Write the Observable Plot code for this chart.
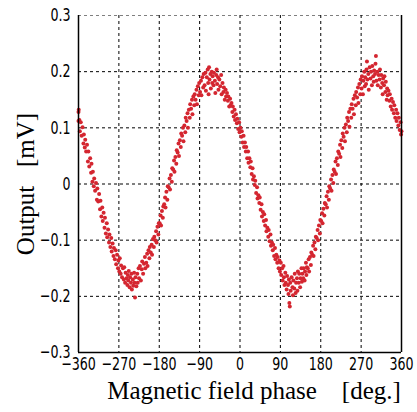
<!DOCTYPE html>
<html>
<head>
<meta charset="utf-8">
<script src="https://cdn.jsdelivr.net/npm/d3@7"></script>
<script src="https://cdn.jsdelivr.net/npm/@observablehq/plot@0.6"></script>
<style>
  html, body { margin: 0; padding: 0; background: #fff; }
</style>
</head>
<body>
<div id="chart"></div>
<script>
// Measured points [phase (deg), output (mV)], grouped by 90° band
const band1 = [
  [-360,0.128],[-360,0.112],[-359.5,0.132],[-358,0.114],[-357,0.094],[-355,0.110],[-353,0.086],[-351,0.101],
  [-349,0.072],[-348,0.088],[-346,0.065],[-345,0.079],[-343,0.058],[-341,0.070],
  [-339,0.040],[-338,0.058],[-336,0.031],[-334,0.046],[-332,0.020],[-331,0.036],
  [-329,0.004],[-328,0.022],[-326,-0.004],[-325,0.010],[-323,-0.012],[-321,0.002],
  [-319,-0.028],[-318,-0.008],[-316,-0.031],[-314,-0.018],[-312,-0.045],[-311,-0.030],
  [-309,-0.058],[-307,-0.042],[-306,-0.066],[-304,-0.051],[-302,-0.078],[-301,-0.060],
  [-299,-0.088],[-297,-0.070],[-296,-0.095],[-294,-0.081],[-292,-0.104],[-291,-0.090],
  [-289,-0.112],[-287,-0.096],[-286,-0.120],[-284,-0.106],[-282,-0.128],[-281,-0.114],
  [-279,-0.134],[-277,-0.118],[-276,-0.143],[-274,-0.126],[-272,-0.150],[-271,-0.136]
];
const band2 = [
  [-269,-0.156],[-268,-0.132],[-266,-0.160],[-265,-0.145],[-263,-0.166],[-261,-0.150],
  [-259,-0.170],[-258,-0.148],[-256,-0.176],[-255,-0.158],[-253,-0.168],[-251,-0.180],[-250,-0.162],
  [-249,-0.172],[-248,-0.155],[-246,-0.184],[-245,-0.166],[-243,-0.176],[-242,-0.160],[-241,-0.188],
  [-239,-0.170],[-238,-0.181],[-236,-0.158],[-235,-0.176],[-234,-0.202],[-233,-0.166],[-231,-0.182],
  [-229,-0.160],[-228,-0.176],[-226,-0.150],[-225,-0.168],[-223,-0.146],[-221,-0.172],
  [-219,-0.152],[-218,-0.138],[-216,-0.160],[-214,-0.142],[-212,-0.130],[-211,-0.150],
  [-209,-0.140],[-207,-0.124],[-206,-0.146],[-204,-0.118],[-202,-0.132],[-201,-0.112],
  [-199,-0.122],[-197,-0.108],[-196,-0.126],[-194,-0.098],[-192,-0.112],[-191,-0.094],
  [-189,-0.100],[-187,-0.084],[-186,-0.104],[-184,-0.076],[-182,-0.090],[-181,-0.070]
];
const band3 = [
  [-179,-0.070],[-177,-0.056],[-176,-0.074],[-174,-0.048],[-172,-0.060],[-171,-0.040],
  [-169,-0.036],[-167,-0.024],[-166,-0.042],[-164,-0.014],[-162,-0.028],[-161,-0.004],
  [-159,-0.006],[-157,0.010],[-156,-0.010],[-154,0.016],[-152,0.004],[-151,0.028],
  [-149,0.026],[-147,0.042],[-146,0.022],[-144,0.048],[-142,0.036],[-141,0.060],
  [-139,0.056],[-137,0.072],[-136,0.050],[-134,0.078],[-132,0.066],[-131,0.090],
  [-129,0.086],[-127,0.100],[-126,0.076],[-124,0.104],[-122,0.092],[-121,0.118],
  [-119,0.112],[-117,0.126],[-116,0.100],[-114,0.132],[-112,0.118],[-111,0.142],
  [-109,0.134],[-107,0.150],[-106,0.124],[-104,0.156],[-102,0.140],[-101,0.160],
  [-99,0.150],[-97,0.168],[-96,0.142],[-94,0.174],[-92,0.158],[-91,0.180]
];
const band4 = [
  [-89,0.164],[-87,0.184],[-86,0.158],[-84,0.190],[-82,0.172],[-81,0.196],
  [-79,0.176],[-77,0.198],[-76,0.166],[-74,0.190],[-72,0.204],[-71,0.180],[-70,0.160],
  [-69,0.208],[-68,0.186],[-66,0.196],[-65,0.170],[-63,0.200],[-62,0.180],[-61,0.192],
  [-59,0.176],[-58,0.198],[-56,0.184],[-55,0.162],[-53,0.194],[-52,0.204],[-51,0.178],
  [-49,0.190],[-48,0.168],[-46,0.186],[-44,0.174],[-42,0.194],[-41,0.160],
  [-39,0.180],[-37,0.164],[-36,0.172],[-34,0.150],[-32,0.168],[-31,0.156],
  [-29,0.162],[-27,0.148],[-26,0.156],[-24,0.138],[-22,0.152],[-21,0.140],
  [-19,0.144],[-17,0.128],[-16,0.138],[-14,0.120],[-12,0.132],[-11,0.114],
  [-9,0.124],[-7,0.108],[-6,0.116],[-4,0.098],[-2,0.110],[-1,0.092]
];
const band5 = [
  [1,0.100],[3,0.084],[4,0.094],[6,0.074],[8,0.086],[9,0.066],
  [11,0.074],[13,0.058],[14,0.066],[16,0.046],[18,0.058],[19,0.038],
  [21,0.046],[23,0.030],[24,0.040],[26,0.018],[28,0.028],[29,0.008],
  [31,0.014],[33,-0.002],[34,0.006],[36,-0.016],[38,-0.006],[39,-0.026],
  [41,-0.020],[43,-0.034],[44,-0.024],[46,-0.046],[48,-0.036],[49,-0.058],
  [51,-0.050],[53,-0.066],[54,-0.054],[56,-0.074],[58,-0.064],[59,-0.084],
  [61,-0.078],[63,-0.094],[64,-0.082],[66,-0.102],[68,-0.090],[69,-0.110],
  [71,-0.104],[73,-0.118],[74,-0.108],[76,-0.128],[78,-0.114],[79,-0.134],
  [81,-0.126],[83,-0.140],[84,-0.130],[86,-0.150],[88,-0.136],[89,-0.156]
];
const band6 = [
  [91,-0.140],[92,-0.162],[94,-0.150],[95,-0.172],[97,-0.146],[98,-0.166],[99,-0.180],
  [101,-0.158],[102,-0.176],[104,-0.188],[105,-0.164],[107,-0.180],[108,-0.196],[109,-0.170],
  [110,-0.212],[111,-0.218],[112,-0.176],[113,-0.190],[115,-0.166],[117,-0.184],[118,-0.198],[119,-0.172],
  [121,-0.186],[122,-0.160],[124,-0.194],[125,-0.176],[127,-0.168],[128,-0.190],[129,-0.156],
  [131,-0.176],[132,-0.160],[134,-0.184],[135,-0.168],[137,-0.150],[138,-0.174],[139,-0.160],
  [141,-0.168],[142,-0.150],[144,-0.172],[145,-0.156],[147,-0.140],[148,-0.162],[149,-0.148],
  [151,-0.150],[153,-0.134],[154,-0.156],[156,-0.130],[158,-0.144],[159,-0.122],
  [161,-0.126],[163,-0.110],[164,-0.128],[166,-0.104],[168,-0.116],[169,-0.094],
  [171,-0.096],[173,-0.082],[174,-0.100],[176,-0.074],[178,-0.088],[179,-0.064]
];
const band7 = [
  [181,-0.066],[183,-0.052],[184,-0.070],[186,-0.044],[188,-0.056],[189,-0.034],
  [191,-0.036],[193,-0.022],[194,-0.042],[196,-0.014],[198,-0.028],[199,-0.004],
  [201,-0.008],[203,0.008],[204,-0.012],[206,0.016],[208,0.002],[209,0.026],
  [211,0.022],[213,0.040],[214,0.018],[216,0.046],[218,0.034],[219,0.058],
  [221,0.054],[223,0.070],[224,0.048],[226,0.078],[228,0.064],[229,0.090],
  [231,0.084],[233,0.100],[234,0.076],[236,0.106],[238,0.092],[239,0.118],
  [241,0.112],[243,0.128],[244,0.102],[246,0.134],[248,0.118],[249,0.142],
  [251,0.134],[253,0.152],[254,0.124],[256,0.158],[258,0.140],[259,0.164],
  [261,0.154],[263,0.172],[264,0.144],[266,0.178],[268,0.160],[269,0.186]
];
const band8 = [
  [271,0.170],[272,0.192],[274,0.160],[275,0.184],[277,0.200],[278,0.174],[279,0.190],
  [281,0.178],[282,0.204],[283,0.218],[284,0.186],[286,0.196],[287,0.168],[289,0.208],
  [291,0.188],[292,0.200],[294,0.176],[295,0.210],[297,0.192],[298,0.182],[299,0.202],
  [301,0.196],[302,0.214],[303,0.228],[304,0.184],[306,0.200],[307,0.176],[309,0.194],
  [311,0.186],[312,0.204],[314,0.172],[315,0.194],[317,0.180],[318,0.160],[319,0.188],
  [321,0.176],[322,0.192],[324,0.164],[325,0.182],[327,0.150],[328,0.170],[329,0.158],
  [331,0.166],[333,0.148],[334,0.160],[336,0.138],[338,0.152],[339,0.132],
  [341,0.146],[343,0.126],[344,0.140],[346,0.118],[348,0.132],[349,0.112],
  [351,0.126],[353,0.104],[354,0.118],[356,0.096],[358,0.110],[359,0.088],[360,0.094]
];

const xTicks = [-360, -270, -180, -90, 0, 90, 180, 270, 360];
const yTicks = [-0.3, -0.2, -0.1, 0, 0.1, 0.2, 0.3];
const xTitle = "Magnetic field phase\u00a0\u00a0\u00a0\u00a0[deg.]";
const yTitle = "Output\u00a0\u00a0\u00a0[mV]";

const points = [...band1, ...band2, ...band3, ...band4, ...band5, ...band6, ...band7, ...band8]
  .map(([p, o]) => ({phase: p, output: o}));

const tickFont = "'Liberation Sans Narrow', 'DejaVu Sans Condensed', 'Liberation Sans', sans-serif";
const titleFont = "'Liberation Serif', 'DejaVu Serif', serif";

const chart = Plot.plot({
  width: 417,
  height: 412,
  marginLeft: 78,
  marginRight: 16,
  marginTop: 15,
  marginBottom: 60,
  style: {background: "#fff", color: "#000"},
  x: {domain: [-360, 360], ticks: xTicks},
  y: {domain: [-0.3, 0.3], ticks: yTicks},
  marks: [
    Plot.gridX(xTicks.slice(1, -1), {stroke: "#000", strokeOpacity: 1, strokeWidth: 1, strokeDasharray: "3,3"}),
    Plot.gridY(yTicks.slice(1), {stroke: "#000", strokeOpacity: yTicks.slice(1).map(v => v === 0.3 ? 0.5 : 1), strokeWidth: 1, strokeDasharray: "3,3"}),
    Plot.dot(points, {x: "phase", y: "output", r: 2, fill: "#d42630", stroke: "none"}),
    Plot.ruleX([-360, 360], {stroke: "#000", strokeWidth: 1.5}),
    Plot.ruleY([-0.3], {stroke: "#000", strokeWidth: 1.5}),
    Plot.axisX(xTicks, {tickSize: 0, tickPadding: 5, fontSize: 18, fontFamily: tickFont, label: null,
      tickFormat: d => d < 0 ? "\u2212" + Math.abs(d) : String(d)}),
    Plot.axisY(yTicks, {tickSize: 0, tickPadding: 8, fontSize: 18, fontFamily: tickFont, label: null,
      tickFormat: d => d === 0 ? "0" : (d < 0 ? "\u2212" : "") + Math.abs(d).toFixed(1)}),
    Plot.text([xTitle], {frameAnchor: "bottom", textAnchor: "middle", lineAnchor: "middle", dx: 14, dy: 38,
      fontFamily: titleFont, fontSize: 25, fill: "#000"}),
    Plot.text([yTitle], {frameAnchor: "left", textAnchor: "middle", lineAnchor: "middle", dx: -53, rotate: -90,
      fontFamily: titleFont, fontSize: 25, fill: "#000"})
  ]
});
document.getElementById("chart").appendChild(chart);

// condense the tick label glyphs horizontally (the reference uses a narrow face)
d3.select(chart).selectAll("g[aria-label='x-axis tick label'] text, g[aria-label='y-axis tick label'] text")
  .each(function () {
    const w = this.getComputedTextLength();
    if (w > 0) {
      this.setAttribute("textLength", (w * 0.78).toFixed(1));
      this.setAttribute("lengthAdjust", "spacingAndGlyphs");
    }
  });
</script>
</body>
</html>
